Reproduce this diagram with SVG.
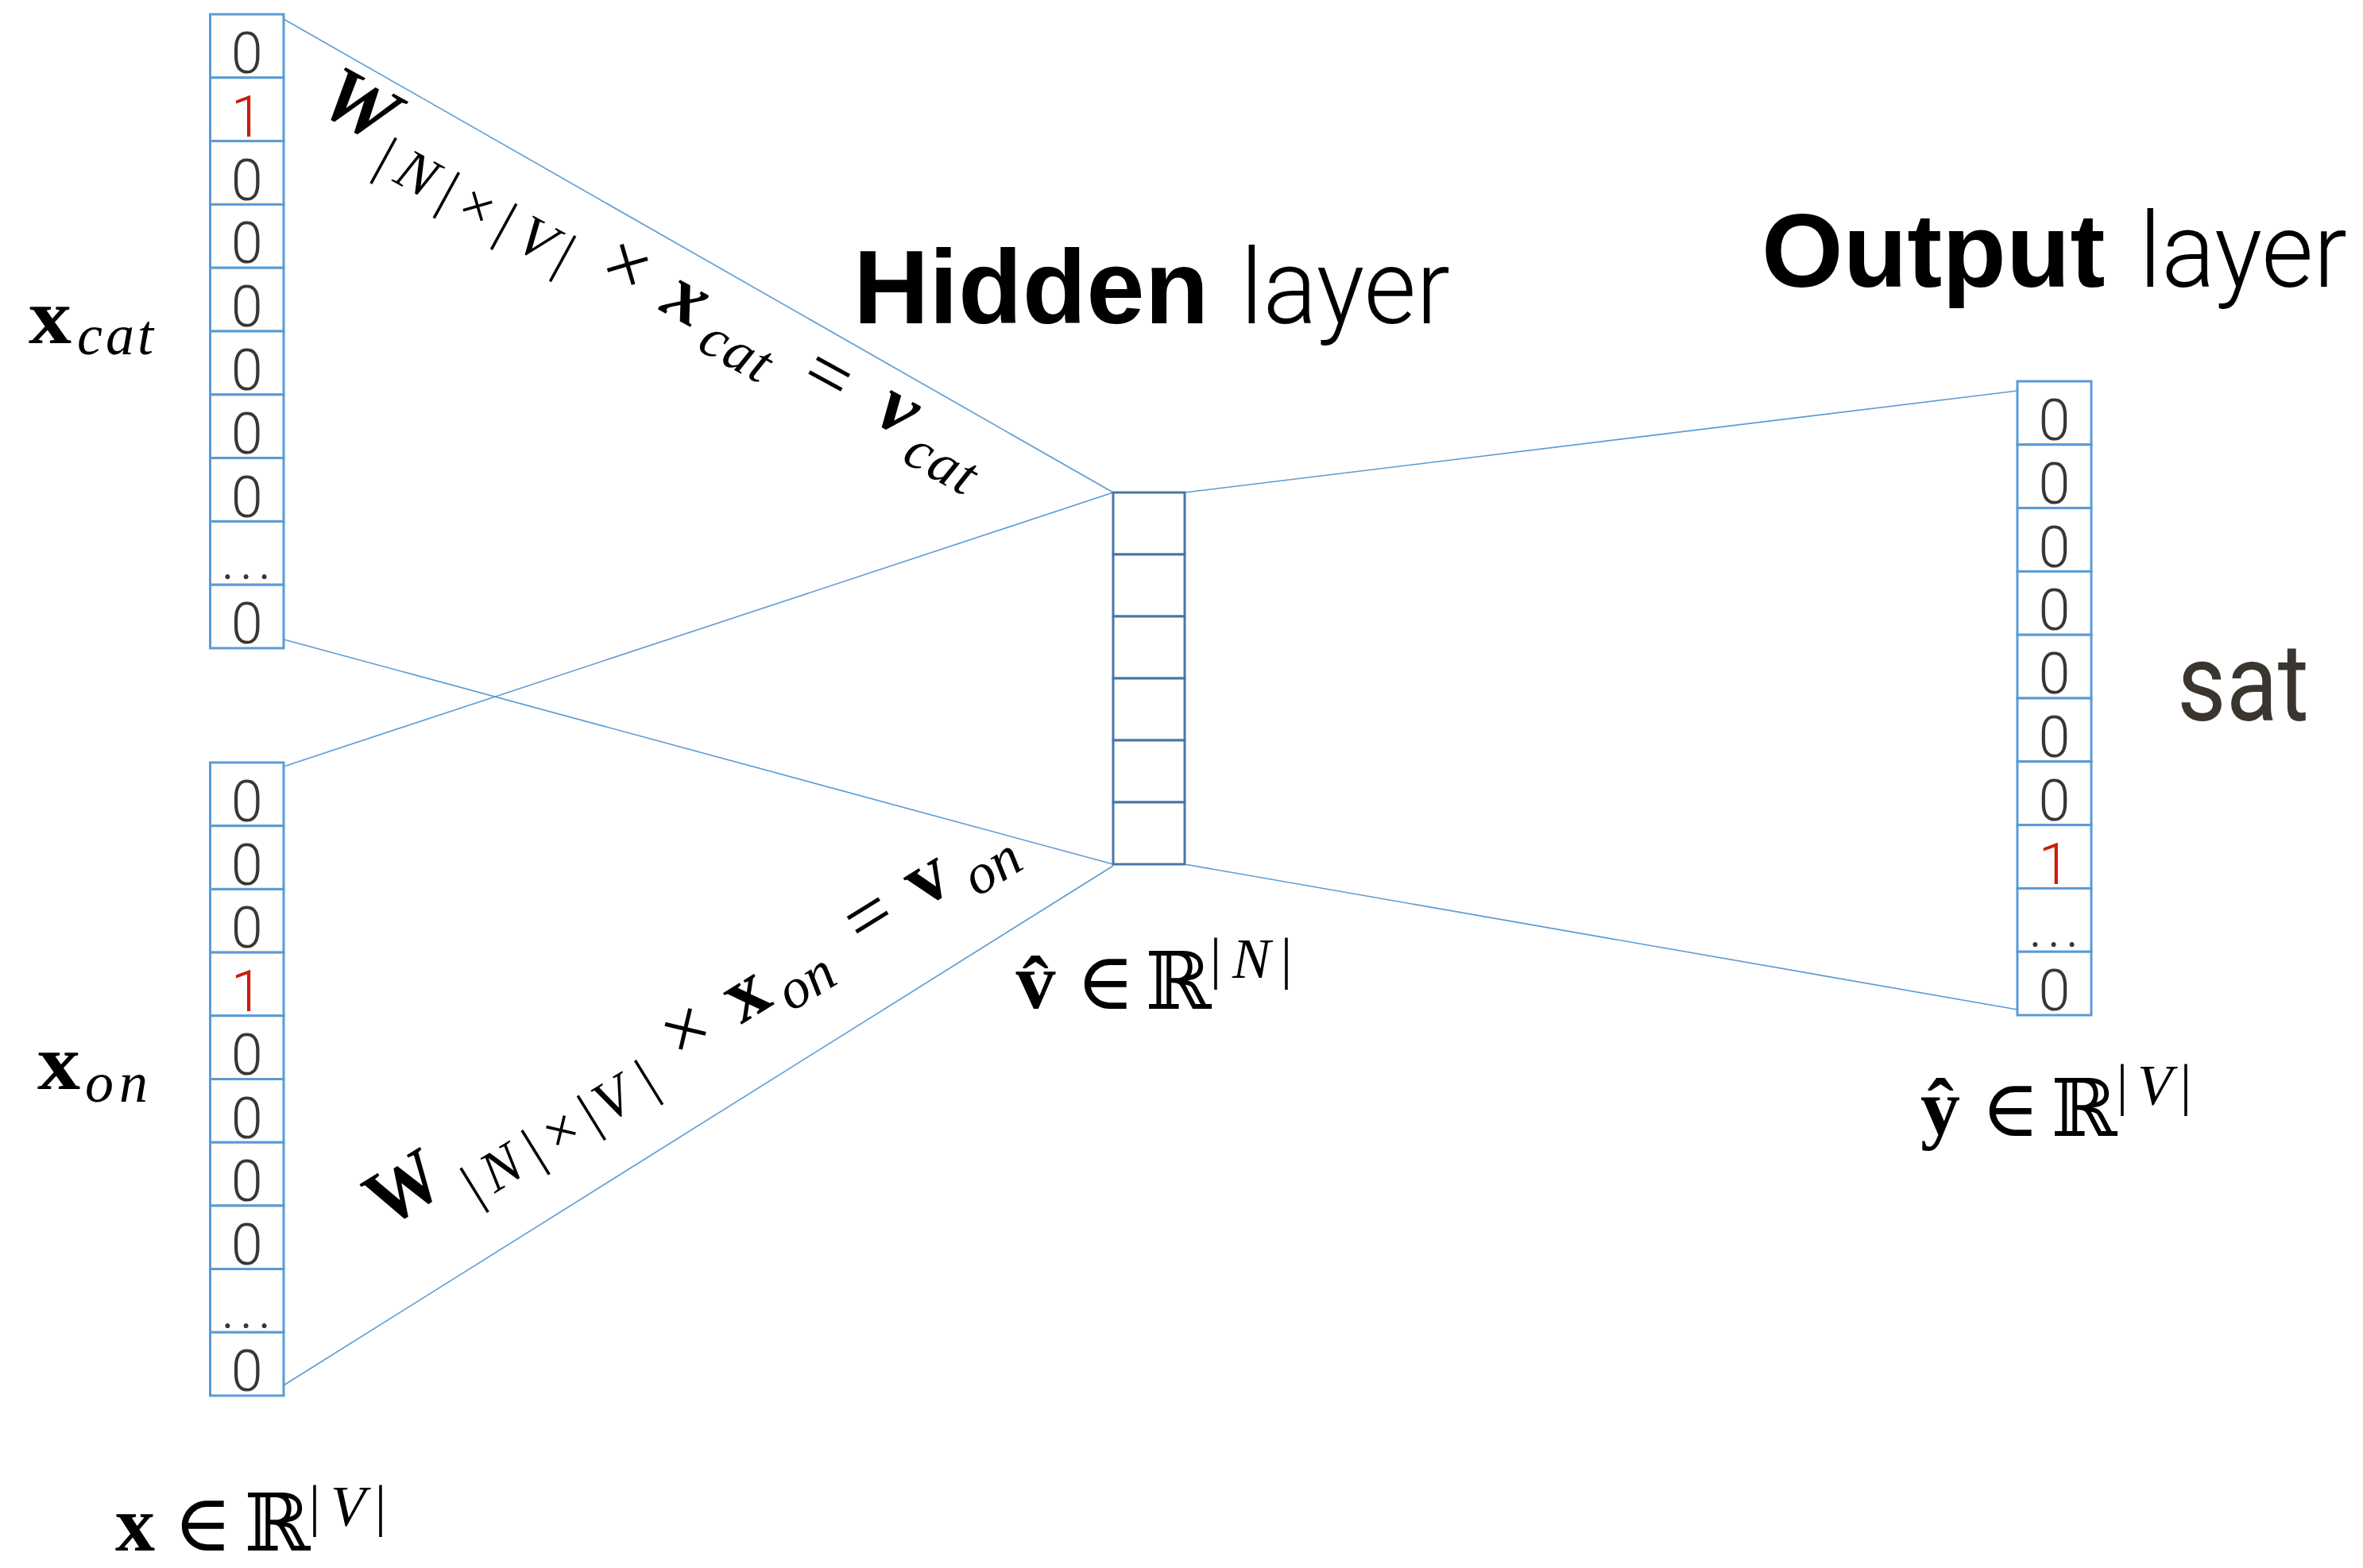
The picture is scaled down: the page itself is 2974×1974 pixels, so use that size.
<svg xmlns="http://www.w3.org/2000/svg" width="2974" height="1974" viewBox="0 0 2974 1974">
<style>
.cell{fill:#fff;stroke:#5b9bd5;stroke-width:3}
.hcell{fill:#fff;stroke:#4a76a8;stroke-width:3}
.conn{stroke:#5b9bd5;stroke-width:1.6;fill:none}
.d{font-family:Roboto,"Liberation Sans",sans-serif;font-weight:300;font-size:72px;fill:#3b3631;text-anchor:middle}
.one{fill:#c81e0a}
.dots{letter-spacing:6px}
.m{font-family:"Liberation Serif","DejaVu Serif",serif;fill:#000}
.c{text-anchor:middle}
.b{font-weight:bold}
.i{font-style:italic}
.big{font-size:100px}
.sub{font-size:72px}
.ttl{font-family:"Liberation Sans",Arial,sans-serif;font-size:132px;fill:#000}
.lt{font-family:Roboto,"Liberation Sans",sans-serif;font-weight:300}
</style>

<!-- connectors -->
<g id="connectors">
  <line class="conn" x1="357" y1="24" x2="1401" y2="620"/>
  <line class="conn" x1="357" y1="805" x2="1401" y2="1088"/>
  <line class="conn" x1="357" y1="965" x2="1401" y2="620"/>
  <line class="conn" x1="357" y1="1744" x2="1401" y2="1090"/>
  <line class="conn" x1="1491" y1="620" x2="2539" y2="492"/>
  <line class="conn" x1="1491" y1="1088" x2="2539" y2="1271"/>
</g>

<!-- input vector: cat -->
<g id="input-cat">
  <rect class="cell" x="264.5" y="18" width="92.5" height="79.8"/>
  <rect class="cell" x="264.5" y="97.8" width="92.5" height="79.8"/>
  <rect class="cell" x="264.5" y="177.6" width="92.5" height="79.8"/>
  <rect class="cell" x="264.5" y="257.4" width="92.5" height="79.8"/>
  <rect class="cell" x="264.5" y="337.2" width="92.5" height="79.8"/>
  <rect class="cell" x="264.5" y="417" width="92.5" height="79.8"/>
  <rect class="cell" x="264.5" y="496.8" width="92.5" height="79.8"/>
  <rect class="cell" x="264.5" y="576.6" width="92.5" height="79.8"/>
  <rect class="cell" x="264.5" y="656.4" width="92.5" height="79.8"/>
  <rect class="cell" x="264.5" y="736.2" width="92.5" height="79.8"/>
  <text class="d" x="310.75" y="92">0</text>
  <text class="d one" x="310.75" y="171.8">1</text>
  <text class="d" x="310.75" y="251.6">0</text>
  <text class="d" x="310.75" y="331.4">0</text>
  <text class="d" x="310.75" y="411.2">0</text>
  <text class="d" x="310.75" y="491">0</text>
  <text class="d" x="310.75" y="570.8">0</text>
  <text class="d" x="310.75" y="650.6">0</text>
  <text class="d dots" x="313" y="729.4">...</text>
  <text class="d" x="310.75" y="810.2">0</text>
</g>

<!-- input vector: on -->
<g id="input-on">
  <rect class="cell" x="264.5" y="960" width="92.5" height="79.7"/>
  <rect class="cell" x="264.5" y="1039.7" width="92.5" height="79.7"/>
  <rect class="cell" x="264.5" y="1119.4" width="92.5" height="79.7"/>
  <rect class="cell" x="264.5" y="1199.1" width="92.5" height="79.7"/>
  <rect class="cell" x="264.5" y="1278.8" width="92.5" height="79.7"/>
  <rect class="cell" x="264.5" y="1358.5" width="92.5" height="79.7"/>
  <rect class="cell" x="264.5" y="1438.2" width="92.5" height="79.7"/>
  <rect class="cell" x="264.5" y="1517.9" width="92.5" height="79.7"/>
  <rect class="cell" x="264.5" y="1597.6" width="92.5" height="79.7"/>
  <rect class="cell" x="264.5" y="1677.3" width="92.5" height="79.7"/>
  <text class="d" x="310.75" y="1034">0</text>
  <text class="d" x="310.75" y="1113.7">0</text>
  <text class="d" x="310.75" y="1193.4">0</text>
  <text class="d one" x="310.75" y="1273.1">1</text>
  <text class="d" x="310.75" y="1352.8">0</text>
  <text class="d" x="310.75" y="1432.5">0</text>
  <text class="d" x="310.75" y="1512.2">0</text>
  <text class="d" x="310.75" y="1591.9">0</text>
  <text class="d dots" x="313" y="1671.6">...</text>
  <text class="d" x="310.75" y="1751.3">0</text>
</g>

<!-- hidden layer -->
<g id="hidden">
  <rect class="hcell" x="1401" y="620" width="90" height="78"/>
  <rect class="hcell" x="1401" y="698" width="90" height="78"/>
  <rect class="hcell" x="1401" y="776" width="90" height="78"/>
  <rect class="hcell" x="1401" y="854" width="90" height="78"/>
  <rect class="hcell" x="1401" y="932" width="90" height="78"/>
  <rect class="hcell" x="1401" y="1010" width="90" height="78"/>
</g>

<!-- output vector -->
<g id="output">
  <rect class="cell" x="2539" y="480" width="93" height="79.8"/>
  <rect class="cell" x="2539" y="559.8" width="93" height="79.8"/>
  <rect class="cell" x="2539" y="639.6" width="93" height="79.8"/>
  <rect class="cell" x="2539" y="719.4" width="93" height="79.8"/>
  <rect class="cell" x="2539" y="799.2" width="93" height="79.8"/>
  <rect class="cell" x="2539" y="879" width="93" height="79.8"/>
  <rect class="cell" x="2539" y="958.8" width="93" height="79.8"/>
  <rect class="cell" x="2539" y="1038.6" width="93" height="79.8"/>
  <rect class="cell" x="2539" y="1118.4" width="93" height="79.8"/>
  <rect class="cell" x="2539" y="1198.2" width="93" height="79.8"/>
  <text class="d" x="2585.5" y="554">0</text>
  <text class="d" x="2585.5" y="633.8">0</text>
  <text class="d" x="2585.5" y="713.6">0</text>
  <text class="d" x="2585.5" y="793.4">0</text>
  <text class="d" x="2585.5" y="873.2">0</text>
  <text class="d" x="2585.5" y="953">0</text>
  <text class="d" x="2585.5" y="1032.8">0</text>
  <text class="d one" x="2585.5" y="1112.6">1</text>
  <text class="d dots" x="2588" y="1192.4">...</text>
  <text class="d" x="2585.5" y="1272.2">0</text>
</g>

<!-- titles -->
<g id="title-hidden">
  <text class="ttl" y="407"><tspan x="1074" font-weight="bold">Hidden</tspan><tspan class="lt" x="1561" textLength="264" lengthAdjust="spacingAndGlyphs">layer</tspan></text>
</g>
<g id="title-output">
  <text class="ttl" y="361"><tspan x="2217" font-weight="bold">Output</tspan><tspan class="lt" x="2692" textLength="262" lengthAdjust="spacingAndGlyphs">layer</tspan></text>
</g>
<g id="word-sat">
  <text x="2740" y="907" font-family="Roboto, 'Liberation Sans', sans-serif" font-size="138" fill="#3a352f" textLength="166" lengthAdjust="spacingAndGlyphs">sat</text>
</g>

<!-- vector labels (tspans kept on one line so no stray spaces shift the centring) -->
<g id="label-xcat">
  <text class="m"><tspan class="b" x="36" y="432" font-size="100" textLength="54" lengthAdjust="spacingAndGlyphs">x</tspan><tspan class="i" x="97" y="446" font-size="72" textLength="96">cat</tspan></text>
</g>
<g id="label-xon">
  <text class="m"><tspan class="b" x="47" y="1371" font-size="100" textLength="54" lengthAdjust="spacingAndGlyphs">x</tspan><tspan class="i" x="107" y="1387" font-size="72" textLength="79">on</tspan></text>
</g>
<g id="label-x-space">
  <text class="m c" font-size="100"><tspan class="b" x="170" y="1952">x</tspan><tspan x="255" y="1952">∈</tspan><tspan x="349" y="1952">ℝ</tspan><tspan x="396" y="1920" font-size="72">|</tspan><tspan class="i" x="438" y="1920" font-size="72">V</tspan><tspan x="479" y="1920" font-size="72">|</tspan></text>
</g>
<g id="label-v-space">
  <text class="m c" font-size="100"><tspan class="b" x="1303.5" y="1269">v&#x302;</tspan><tspan x="1391" y="1270">∈</tspan><tspan x="1483" y="1270">ℝ</tspan><tspan x="1530" y="1231" font-size="72">|</tspan><tspan class="i" x="1575" y="1231" font-size="72">N</tspan><tspan x="1619" y="1231" font-size="72">|</tspan></text>
</g>
<g id="label-y-space">
  <text class="m c" font-size="100"><tspan class="b" x="2442" y="1428">ŷ</tspan><tspan x="2530" y="1430">∈</tspan><tspan x="2623" y="1430">ℝ</tspan><tspan x="2671" y="1390" font-size="72">|</tspan><tspan class="i" x="2712" y="1390" font-size="72">V</tspan><tspan x="2751" y="1390" font-size="72">|</tspan></text>
</g>

<!-- projection equations written along the connectors -->
<g id="eq-cat" transform="translate(786.7,338.3) rotate(28.7)">
  <text class="m c"><tspan class="b i big" x="-392" y="12" textLength="92" lengthAdjust="spacingAndGlyphs">W</tspan><tspan class="sub" x="-332" y="44">|</tspan><tspan class="sub i" x="-287" y="44">N</tspan><tspan class="sub" x="-241.6" y="44">|</tspan><tspan class="sub" x="-200.6" y="44">×</tspan><tspan class="sub" x="-159.2" y="44">|</tspan><tspan class="sub i" x="-115.7" y="44">V</tspan><tspan class="sub" x="-75.1" y="44">|</tspan><tspan class="big" x="0" y="27">×</tspan><tspan class="b i big" x="86.6" y="25">x</tspan><tspan class="i" font-size="72" x="172" y="46" textLength="92">cat</tspan><tspan class="big" x="289" y="26">=</tspan><tspan class="b i big" x="387.5" y="19">v</tspan><tspan class="i" font-size="72" x="466" y="46" textLength="92">cat</tspan></text>
</g>
<g id="eq-on" transform="translate(865.8,1300.8) rotate(-31.7)">
  <text class="m c"><tspan class="b big" x="-407" y="10" textLength="92" lengthAdjust="spacingAndGlyphs">W</tspan><tspan class="sub" x="-332.3" y="44">|</tspan><tspan class="sub i" x="-288.7" y="44">N</tspan><tspan class="sub" x="-241.9" y="44">|</tspan><tspan class="sub" x="-200.2" y="44">×</tspan><tspan class="sub" x="-159.4" y="44">|</tspan><tspan class="sub i" x="-124.1" y="44">V</tspan><tspan class="sub" x="-74.5" y="44">|</tspan><tspan class="big" x="0" y="27">×</tspan><tspan class="b big" x="87.6" y="26">x</tspan><tspan class="i" font-size="72" x="160.4" y="46">on</tspan><tspan class="big" x="270.5" y="26">=</tspan><tspan class="b big" x="358" y="22">v</tspan><tspan class="i" font-size="72" x="435.5" y="46">on</tspan></text>
</g>
</svg>
